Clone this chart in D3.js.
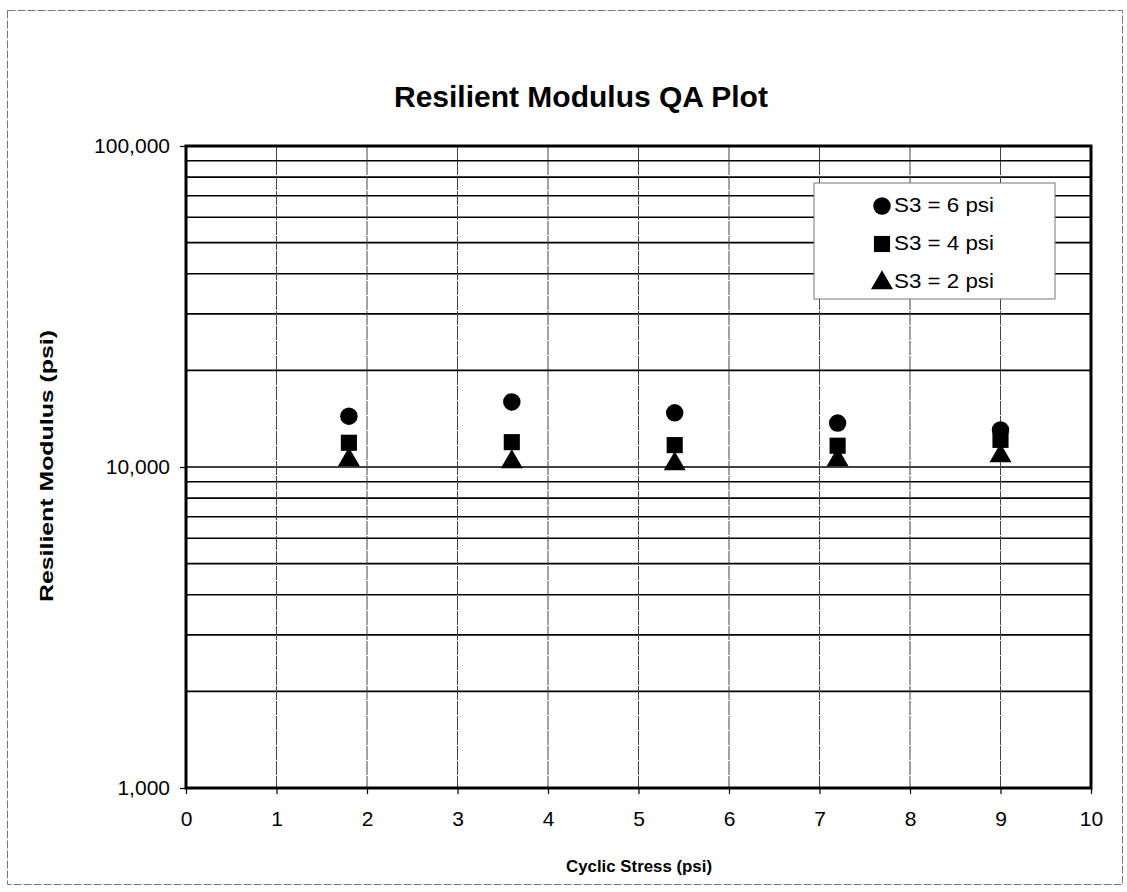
<!DOCTYPE html>
<html>
<head>
<meta charset="utf-8">
<script src="https://cdn.jsdelivr.net/npm/d3@7"></script>
<style>
  html, body { margin: 0; padding: 0; background: #fff; }
  svg { display: block; font-family: Arial, "Liberation Sans", sans-serif; }
</style>
</head>
<body>
<svg id="chart" width="1127" height="892"></svg>
<script>
// Cyclic stress levels (psi) at which each confining pressure was tested
const cyclicStress = [1.8, 3.6, 5.4, 7.2, 9.0];

// Resilient modulus (psi) for each confining pressure S3
const modulusS3_6 = [14400, 15950, 14750, 13700, 13050];
const modulusS3_4 = [11900, 11950, 11700, 11650, 12150];
const modulusS3_2 = [10600, 10450, 10300, 10600, 10900];

const seriesNames = ["S3 = 6 psi", "S3 = 4 psi", "S3 = 2 psi"];
const seriesShapes = ["circle", "square", "triangle"];

const xTicks = [0, 1, 2, 3, 4, 5, 6, 7, 8, 9, 10];
const yMajorTicks = [1000, 10000, 100000];
const yTickLabels = ["1,000", "10,000", "100,000"];

const series = [modulusS3_6, modulusS3_4, modulusS3_2].map((vals, i) => ({
  name: seriesNames[i],
  shape: seriesShapes[i],
  points: vals.map((v, j) => ({ x: cyclicStress[j], y: v }))
}));

const svg = d3.select("#chart");
const W = 1127, H = 892;
const plot = { left: 186, right: 1091, top: 146, bottom: 788 };

// Outer chart border
svg.append("rect")
  .attr("x", 7.5).attr("y", 10.5)
  .attr("width", W - 12).attr("height", H - 18)
  .attr("fill", "none").attr("stroke", "#777").attr("stroke-width", 1)
  .attr("stroke-dasharray", "8,2");

const x = d3.scaleLinear().domain([0, 10]).range([plot.left, plot.right]);
const y = d3.scaleLog().domain([1000, 100000]).range([plot.bottom, plot.top]);

// Horizontal gridlines at every log step (1..9 × decade)
const yGrid = [];
for (let d = 1000; d < 100000; d *= 10) {
  for (let k = 1; k <= 9; k++) yGrid.push(d * k);
}
yGrid.push(100000);

const grid = svg.append("g");
grid.selectAll("line.h")
  .data(yGrid)
  .join("line")
  .attr("class", "h")
  .attr("x1", plot.left).attr("x2", plot.right)
  .attr("y1", d => y(d)).attr("y2", d => y(d))
  .attr("stroke", "#000").attr("stroke-width", 1.6);

// Vertical gridlines at each integer of cyclic stress
grid.selectAll("line.v")
  .data(xTicks)
  .join("line")
  .attr("class", "v")
  .attr("x1", d => x(d)).attr("x2", d => x(d))
  .attr("y1", plot.top).attr("y2", plot.bottom)
  .attr("stroke", "#444").attr("stroke-width", 1)
  .attr("stroke-dasharray", "14,1");

// Axes
const xAxis = d3.axisBottom(x).tickValues(xTicks).tickSize(6).tickPadding(17);
const yAxis = d3.axisLeft(y).tickValues(yMajorTicks)
  .tickFormat((d, i) => yTickLabels[i]).tickSize(6).tickPadding(10);

const gx = svg.append("g").attr("transform", `translate(0,${plot.bottom})`).call(xAxis);
const gy = svg.append("g").attr("transform", `translate(${plot.left},0)`).call(yAxis);
[gx, gy].forEach(g => {
  g.attr("font-size", null).attr("font-family", null);
  g.select(".domain").remove();
  g.selectAll(".tick line").attr("stroke", "#000").attr("stroke-width", 1.2);
  g.selectAll(".tick text").attr("fill", "#000")
    .style("font-size", "21px");
});

// Plot frame
svg.append("rect")
  .attr("x", plot.left).attr("y", plot.top)
  .attr("width", plot.right - plot.left).attr("height", plot.bottom - plot.top)
  .attr("fill", "none").attr("stroke", "#000").attr("stroke-width", 3);

// Marker shapes
const sym = {
  circle: d3.symbol().type(d3.symbolCircle).size(240),
  square: d3.symbol().type(d3.symbolSquare).size(260),
  triangle: d3.symbol().type(d3.symbolTriangle).size(210)
};

series.forEach(s => {
  svg.append("g").selectAll("path")
    .data(s.points)
    .join("path")
    .attr("d", sym[s.shape]())
    .attr("transform", d => `translate(${x(d.x)},${y(d.y) + (s.shape === "triangle" ? 1 : 0)})`)
    .attr("fill", "#000");
});

// Legend
const legend = svg.append("g").attr("transform", "translate(814,183)");
legend.append("rect")
  .attr("width", 241).attr("height", 116)
  .attr("fill", "#fff").attr("stroke", "#777").attr("stroke-width", 1);
series.forEach((s, i) => {
  const row = legend.append("g").attr("transform", `translate(0,${22 + i * 38})`);
  row.append("path")
    .attr("d", sym[s.shape]())
    .attr("transform", `translate(68,${s.shape === "triangle" ? 2 : 1})`)
    .attr("fill", "#000");
  row.append("text")
    .attr("x", 80).attr("y", 0).attr("dy", "0.35em")
    .attr("textLength", 100).attr("lengthAdjust", "spacingAndGlyphs")
    .style("font-size", "20px")
    .text(s.name);
});

// Title and axis titles
svg.append("text")
  .attr("x", 394).attr("y", 107)
  .style("font-size", "30px").style("font-weight", "bold")
  .text("Resilient Modulus QA Plot");

svg.append("text")
  .attr("x", 639).attr("y", 872)
  .attr("text-anchor", "middle")
  .attr("textLength", 146).attr("lengthAdjust", "spacingAndGlyphs")
  .style("font-size", "17px").style("font-weight", "bold")
  .text("Cyclic Stress (psi)");

svg.append("text")
  .attr("transform", `translate(53,466) rotate(-90)`)
  .attr("text-anchor", "middle")
  .attr("textLength", 272).attr("lengthAdjust", "spacingAndGlyphs")
  .style("font-size", "18px").style("font-weight", "bold")
  .text("Resilient Modulus (psi)");
</script>
</body>
</html>
